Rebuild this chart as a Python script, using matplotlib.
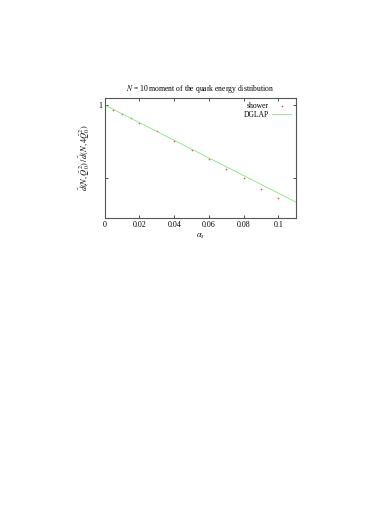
import matplotlib
matplotlib.use("Agg")
import matplotlib.pyplot as plt
import numpy as np
from matplotlib.ticker import FixedLocator, NullFormatter

plt.rcParams['font.family'] = 'Liberation Serif'
plt.rcParams['mathtext.fontset'] = 'stix'

# shower points
alpha_shower = [0.005, 0.01, 0.015, 0.02, 0.03, 0.04, 0.05, 0.06, 0.07, 0.08, 0.09, 0.1]
ratio_shower = [0.953, 0.920, 0.880, 0.843, 0.778, 0.713, 0.654, 0.599, 0.547, 0.498, 0.452, 0.414]

# DGLAP line (straight in log y)
alpha_dglap = [0.0, 0.11]
ratio_dglap = [1.0, 0.398]

fig = plt.figure(figsize=(3.74, 5.28), dpi=100)
ax = fig.add_axes([0.28, 0.5866, 0.5115, 0.2284])

ax.plot(alpha_shower, ratio_shower, linestyle='none', marker='+', color='#ff5050',
        markersize=1.6, markeredgewidth=0.5, label='shower')
ax.plot(alpha_dglap, ratio_dglap, color='#80e880', linewidth=0.6, label='DGLAP')

ax.set_yscale('log')
ax.set_xlim(0, 0.1102)
ax.set_ylim(0.341, 1.072)

ax.xaxis.set_major_locator(FixedLocator([0, 0.02, 0.04, 0.06, 0.08, 0.1]))
ax.set_xticklabels(['0', '0.02', '0.04', '0.06', '0.08', '0.1'])
ax.yaxis.set_major_locator(FixedLocator([1]))
ax.set_yticklabels(['1'])
ax.yaxis.set_minor_locator(FixedLocator([0.5]))
ax.yaxis.set_minor_formatter(NullFormatter())

ax.tick_params(which='both', direction='in', top=True, right=True,
               labelsize=5.8, length=2, width=0.5, pad=2)
for s in ax.spines.values():
    s.set_linewidth(0.8)
    s.set_color('#555555')

ax.set_xlabel(r'$\alpha_s$', fontsize=6, labelpad=2)
ax.set_ylabel(r'$\tilde{d}(N,\tilde{Q}_0^2)\,/\,\tilde{d}(N,4\tilde{Q}_0^2)$', fontsize=6, labelpad=4)
ax.set_title(r'$N$ = 10 moment of the quark energy distribution', fontsize=5.5, pad=5)

leg = ax.legend(loc='upper right', frameon=False, markerfirst=False, fontsize=5.5,
                handlelength=2.5, handletextpad=0.5, borderaxespad=0.2,
                labelspacing=0.05)

fig.savefig('out.png', dpi=100)
